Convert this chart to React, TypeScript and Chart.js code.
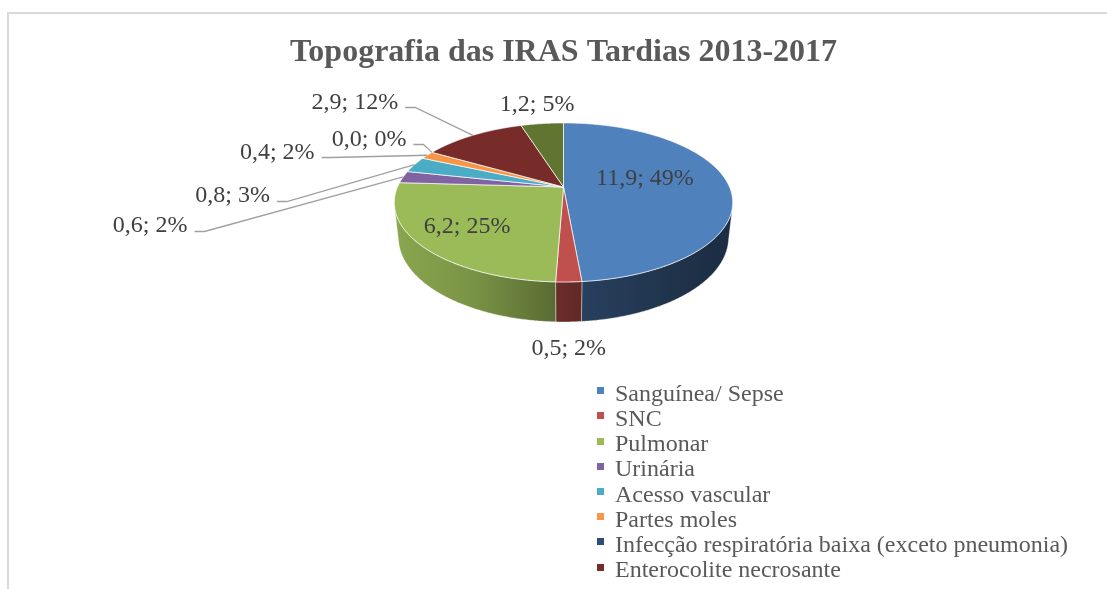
import React, { useEffect, useRef } from 'react';
import { Chart, registerables } from 'chart.js';

Chart.register(...registerables);

// ---------- data ----------
const TITLE = 'Topografia das IRAS Tardias 2013-2017';
const categories = [
  'Sanguínea/ Sepse',
  'SNC',
  'Pulmonar',
  'Urinária',
  'Acesso vascular',
  'Partes moles',
  'Infecção respiratória baixa (exceto pneumonia)',
  'Enterocolite necrosante',
  'Outras',
];
const values = [11.9, 0.5, 6.2, 0.6, 0.8, 0.4, 0.0, 2.9, 1.2];
const colors = ['#4F81BD', '#C0504D', '#9BBB59', '#8064A2', '#4BACC6', '#F79646', '#2C4D75', '#772C2A', '#5F7530'];

// ---------- label layout (offset from each slice's rim anchor) ----------
const labelDx = [-83, 0, 45, -253, -182, -150, -63, -118, -5];
const labelDy = [-5, 67, -19, 49, 31, -3, -13, -33, -19];
const labelLeader = [false, false, false, true, true, true, true, true, false];

// ---------- 3D view ----------
const ELEV = (27.45 * Math.PI) / 180;
const CAM_DIST = 4.57; // in radii
const DEPTH = 0.241; // thickness / radius
const SHADE_U = [-1, -0.55, -0.1, 0, 0.15, 0.8, 1];
const SHADE_F = [0.89, 0.79, 0.6, 0.54, 0.49, 0.37, 0.35];

const FONT = "'Liberation Serif', 'Times New Roman', serif";

function hexToRgb(hex: string) {
  const n = parseInt(hex.slice(1), 16);
  return [(n >> 16) & 255, (n >> 8) & 255, n & 255];
}
function shade(hex: string, f: number) {
  const [r, g, b] = hexToRgb(hex);
  return `rgb(${Math.round(r * f)},${Math.round(g * f)},${Math.round(b * f)})`;
}
function shadeAt(u: number) {
  if (u <= SHADE_U[0]) return SHADE_F[0];
  for (let i = 1; i < SHADE_U.length; i++) {
    if (u <= SHADE_U[i]) {
      const t = (u - SHADE_U[i - 1]) / (SHADE_U[i] - SHADE_U[i - 1]);
      return SHADE_F[i - 1] + t * (SHADE_F[i] - SHADE_F[i - 1]);
    }
  }
  return SHADE_F[SHADE_F.length - 1];
}
function fmtLabel(v: number, total: number) {
  return `${v.toFixed(1).replace('.', ',')}; ${Math.round((v / total) * 100)}%`;
}

function makeProjector(cx: number, cy: number, R: number) {
  const D = CAM_DIST * R;
  const sE = Math.sin(ELEV);
  const cE = Math.cos(ELEV);
  return (a: number, r: number, yw: number): [number, number] => {
    const x = r * Math.cos(a);
    const z = r * Math.sin(a);
    const sy = z * sE - yw * cE;
    const w = z * cE + yw * sE;
    const s = D / (D - w);
    return [cx + s * x, cy + s * sy];
  };
}

const pie3d = {
  id: 'pie3d',
  beforeDraw(chart: any) {
    const ctx = chart.ctx;
    ctx.save();
    ctx.strokeStyle = '#d9d9d9';
    ctx.lineWidth = 2;
    ctx.beginPath();
    ctx.moveTo(chart.width, 13);
    ctx.lineTo(8, 13);
    ctx.lineTo(8, chart.height);
    ctx.stroke();
    ctx.restore();
  },
  beforeDatasetsDraw(chart: any) {
    const ctx = chart.ctx;
    const arcs = chart.getDatasetMeta(0).data as any[];
    if (!arcs.length) return false;
    const cx = arcs[0].x;
    const cy = arcs[0].y;
    const R = arcs[0].outerRadius;
    const h = DEPTH * R;
    const P = makeProjector(cx, cy, R);
    const a0 = Math.asin(1 / (CAM_DIST * Math.cos(ELEV)));
    const step = Math.PI / 360;
    const bg = chart.data.datasets[0].backgroundColor as string[];
    const xl = P(Math.PI - a0, R, 0)[0];
    const xr = P(a0, R, 0)[0];

    ctx.save();
    // walls
    arcs.forEach((arc, i) => {
      const s = Math.max(arc.startAngle, a0);
      const e = Math.min(arc.endAngle, Math.PI - a0);
      if (e <= s) return;
      const grad = ctx.createLinearGradient(xl, 0, xr, 0);
      for (let k = 0; k <= 40; k++) {
        const u = -1 + k / 20;
        grad.addColorStop(k / 40, shade(bg[i], shadeAt(u)));
      }
      ctx.beginPath();
      const n = Math.max(2, Math.ceil((e - s) / step));
      for (let k = 0; k <= n; k++) {
        const a = s + ((e - s) * k) / n;
        const [px, py] = P(a, R, 0);
        if (k === 0) ctx.moveTo(px, py);
        else ctx.lineTo(px, py);
      }
      for (let k = n; k >= 0; k--) {
        const a = s + ((e - s) * k) / n;
        const [px, py] = P(a, R, -h);
        ctx.lineTo(px, py);
      }
      ctx.closePath();
      ctx.fillStyle = grad;
      ctx.fill();
      ctx.strokeStyle = 'rgba(255,255,255,0.45)';
      ctx.lineWidth = 0.8;
      ctx.stroke();
    });
    // top faces
    arcs.forEach((arc, i) => {
      const s = arc.startAngle;
      const e = arc.endAngle;
      if (e - s <= 1e-6) return;
      ctx.beginPath();
      ctx.moveTo(cx, cy);
      const n = Math.max(2, Math.ceil((e - s) / step));
      for (let k = 0; k <= n; k++) {
        const a = s + ((e - s) * k) / n;
        const [px, py] = P(a, R, 0);
        ctx.lineTo(px, py);
      }
      ctx.closePath();
      ctx.fillStyle = bg[i];
      ctx.fill();
      ctx.strokeStyle = 'rgba(255,255,255,0.7)';
      ctx.lineWidth = 1;
      ctx.stroke();
    });
    ctx.restore();
    return false;
  },
  afterDraw(chart: any) {
    const ctx = chart.ctx;
    const arcs = chart.getDatasetMeta(0).data as any[];
    if (!arcs.length) return;
    const cx = arcs[0].x;
    const cy = arcs[0].y;
    const R = arcs[0].outerRadius;
    const P = makeProjector(cx, cy, R);
    const data = chart.data.datasets[0].data as number[];
    const total = data.reduce((a: number, b: number) => a + b, 0);

    ctx.save();
    // data labels
    ctx.font = `24px ${FONT}`;
    ctx.textAlign = 'center';
    ctx.textBaseline = 'middle';
    arcs.forEach((arc, i) => {
      const mid = (arc.startAngle + arc.endAngle) / 2;
      const [ax, ay] = P(mid, R, 0);
      const lx = ax + labelDx[i];
      const ly = ay + labelDy[i];
      const text = fmtLabel(data[i], total);
      if (labelLeader[i]) {
        const wdt = ctx.measureText(text).width;
        const right = lx + wdt / 2;
        const y = Math.round(ly + 5) + 0.5;
        ctx.strokeStyle = '#a0a0a0';
        ctx.lineWidth = 1.3;
        ctx.beginPath();
        ctx.moveTo(right + 7, y);
        ctx.lineTo(right + 17, y);
        ctx.lineTo(ax, ay);
        ctx.stroke();
      }
      ctx.fillStyle = '#404040';
      ctx.fillText(text, lx, ly);
    });

    // legend
    const labels = chart.data.labels as string[];
    const bg = chart.data.datasets[0].backgroundColor as string[];
    const LX = 597;
    const LY0 = 400.7;
    const LSTEP = 25.2;
    ctx.font = `24px ${FONT}`;
    ctx.textAlign = 'left';
    ctx.textBaseline = 'alphabetic';
    for (let i = 0; i < labels.length; i++) {
      const base = LY0 + i * LSTEP;
      if (base + 6 > chart.height) break;
      ctx.fillStyle = bg[i];
      ctx.fillRect(LX, Math.round(base - 13.5), 7, 7);
      ctx.fillStyle = '#595959';
      ctx.fillText(labels[i], LX + 18, base);
    }
    ctx.restore();
  },
};

export default function App() {
  const ref = useRef<HTMLCanvasElement | null>(null);
  useEffect(() => {
    document.body.style.margin = '0';
    const canvas = ref.current;
    if (!canvas) return;
    Chart.defaults.font.family = FONT;
    const chart = new Chart(canvas, {
      type: 'pie',
      data: {
        labels: categories,
        datasets: [
          {
            data: values,
            backgroundColor: colors,
            borderWidth: 0,
            radius: 166,
          } as any,
        ],
      },
      options: {
        responsive: false,
        animation: false,
        devicePixelRatio: 1,
        layout: { padding: { left: 20, right: 0, top: 0, bottom: 287.4 } },
        plugins: {
          legend: { display: false },
          tooltip: { enabled: false },
          title: {
            display: true,
            text: TITLE,
            color: '#595959',
            font: { family: FONT, size: 32, weight: 'bold' },
            padding: { top: 34, bottom: 0 },
          },
        },
      } as any,
      plugins: [pie3d as any],
    });
    return () => chart.destroy();
  }, []);
  return (
    <div style={{ width: 1107, height: 589, position: 'relative', background: '#fff' }}>
      <canvas ref={ref} width={1107} height={589} style={{ display: 'block' }} />
    </div>
  );
}
